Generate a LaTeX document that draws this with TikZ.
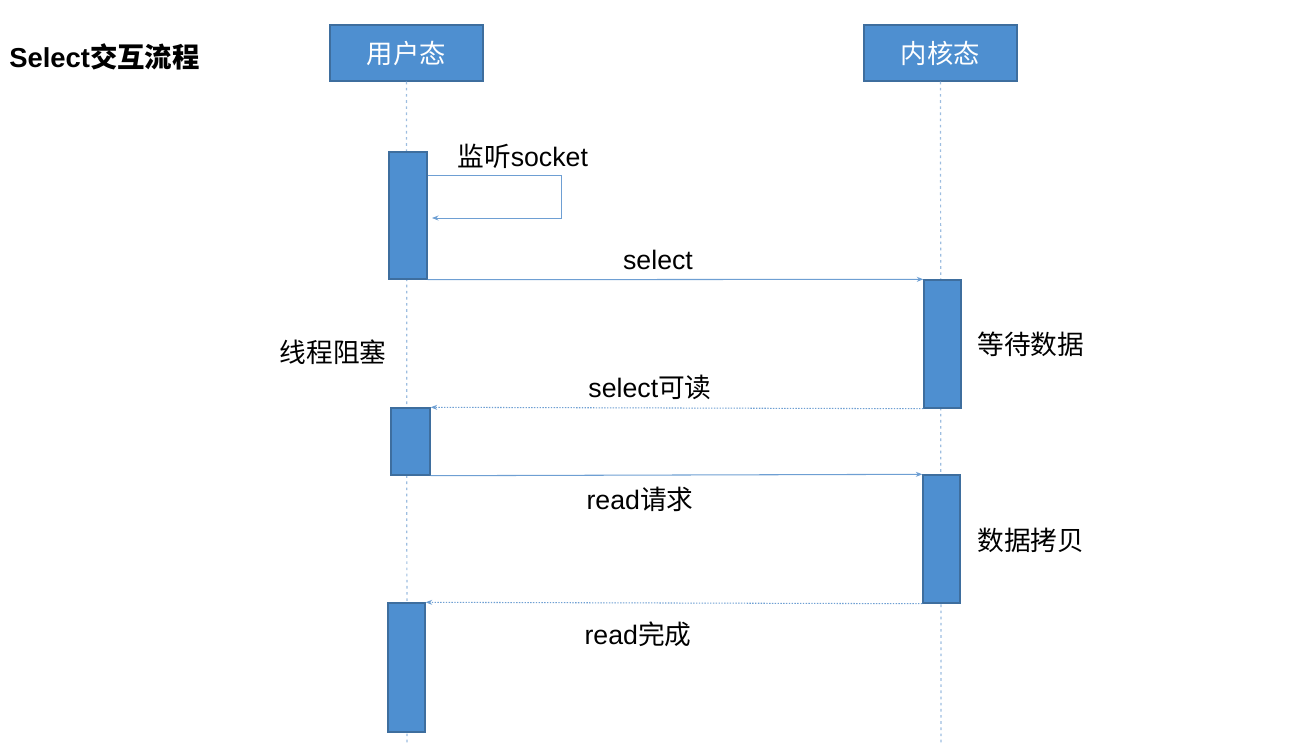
\documentclass[tikz,border=0pt]{standalone}
\usepackage{fontspec}
\setmainfont{Liberation Sans}
\newfontfamily\cjk{Noto Sans CJK SC}
\usetikzlibrary{arrows.meta}

\definecolor{boxblue}{HTML}{4E8FD0}
\definecolor{boxline}{HTML}{3E6E9E}
\definecolor{msgblue}{HTML}{6E9FD3}
\definecolor{lifeblue}{HTML}{9DBDE0}

\begin{document}
\begin{tikzpicture}[x=0.02cm, y=-0.02cm,
    head/.style={draw=boxline, fill=boxblue, line width=0.8pt, minimum width=3.06cm, minimum height=1.12cm, text=white, font=\fontsize{15}{17}\selectfont\cjk},
    act/.style={draw=boxline, fill=boxblue, line width=0.8pt, inner sep=0pt},
    lifeline/.style={draw=lifeblue, line width=0.7pt, dash pattern=on 1.5pt off 2pt},
    label/.style={font=\fontsize{15.2}{17}\selectfont, inner sep=0pt},
    arrow/.style={draw=msgblue, line width=0.6pt, -{Stealth[length=1.3mm, width=1mm]}},
    return/.style={draw=msgblue, line width=0.6pt, dash pattern=on 0.8pt off 0.8pt, -{Stealth[length=1.3mm, width=1mm]}}
]
    \useasboundingbox (0,0) rectangle (1295,752);

    \node[label, anchor=west, font=\fontsize{15.6}{17}\selectfont\bfseries] (title) at (9,57) {Select{\cjk 交互流程}};

    \node[head] (u) at (406.5,53) {用户态};
    \node[head] (k) at (940.5,53) {内核态};

    \draw[lifeline] (u) -- (407,745);
    \draw[lifeline] (k) -- (941,745);

    \node[act, minimum width=38*0.02cm, minimum height=127*0.02cm] (u1) at (408,215.5) {};
    \node[act, minimum width=37*0.02cm, minimum height=128*0.02cm] (k1) at (942.5,344) {};
    \node[act, minimum width=39*0.02cm, minimum height=67*0.02cm] (u2) at (410.5,441.5) {};
    \node[act, minimum width=37*0.02cm, minimum height=128*0.02cm] (k2) at (941.5,539) {};
    \node[act, minimum width=37*0.02cm, minimum height=129*0.02cm] (u3) at (406.5,667.5) {};

    \coordinate (loopR) at (561,175);
    \coordinate (loopB) at (432,218);
    \draw[arrow, line width=0.45pt] (u1.east |- loopR) -- (loopR) |- (loopB);

    \draw[arrow] (u1.south east) -- (k1.north west);
    \draw[return] (k1.south west) -- (u2.north east);
    \draw[arrow] (u2.south east) -- (k2.north west);
    \draw[return] (k2.south west) -- (u3.north east);

    \node[label, anchor=west] (listen) at (457,156) {{\cjk 监听}socket};
    \node[label] (sel) at (658,260) {select};
    \node[label] (selok) at (650,387) {select{\cjk 可读}};
    \node[label] (rdreq) at (640,499) {read{\cjk 请求}};
    \node[label] (rddone) at (638,634) {read{\cjk 完成}};
    \node[label] (block) at (333,352) {\cjk 线程阻塞};
    \node[label, anchor=west] (wait) at (977,344) {\cjk 等待数据};
    \node[label, anchor=west] (copy) at (977,540) {\cjk 数据拷贝};
\end{tikzpicture}
\end{document}
